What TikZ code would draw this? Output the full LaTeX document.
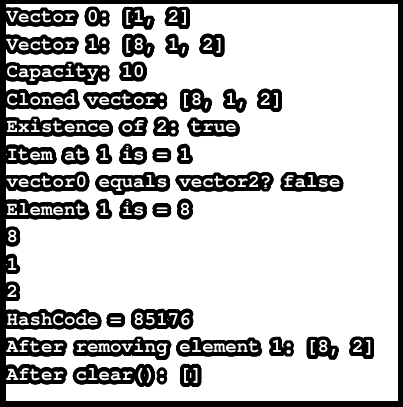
\documentclass[tikz,border=0pt]{standalone}
\usepackage{fontspec}
\setmonofont{texgyrecursor}[Extension=.otf, UprightFont=*-regular, BoldFont=*-bold]
\usepackage{contour}
\contourlength{3.8pt}
\contournumber{48}
\def\xo{6.5}
\def\yo{384}
\def\lh{27.5}
\tikzset{
  ln/.style={anchor=text, inner sep=0pt, text=white,
    font=\fontsize{19.2}{20}\selectfont\ttfamily\bfseries\frenchspacing},
}
\newcommand\lin[2]{\node[ln] (l#1) at (\xo,{\yo-(#1-1)*\lh}) {\contour{black}{#2}};}
\begin{document}
\begin{tikzpicture}[x=1pt,y=1pt]
\useasboundingbox (0,0) rectangle (403,407);
\fill[black] (0,0) rectangle (403,407);
\fill[white] (6,6) rectangle (398,403);
\lin{1}{Vector 0: [1, 2]}
\lin{2}{Vector 1: [8, 1, 2]}
\lin{3}{Capacity: 10}
\lin{4}{Cloned vector: [8, 1, 2]}
\lin{5}{Existence of 2: true}
\lin{6}{Item at 1 is = 1}
\lin{7}{vector0 equals vector2? false}
\lin{8}{Element 1 is = 8}
\lin{9}{8}
\lin{10}{1}
\lin{11}{2}
\lin{12}{HashCode = 85176}
\lin{13}{After removing element 1: [8, 2]}
\lin{14}{After clear(): []}
\end{tikzpicture}
\end{document}
